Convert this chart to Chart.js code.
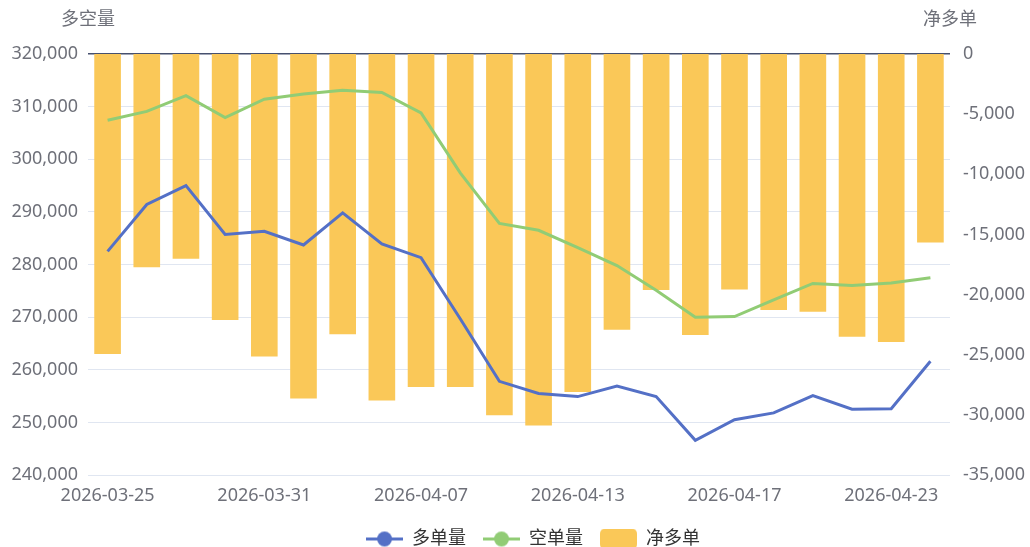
<!DOCTYPE html>
<html>
<head>
<meta charset="utf-8">
<script src="https://cdn.jsdelivr.net/npm/chart.js@4/dist/chart.umd.min.js"></script>
<style>
  html, body { margin: 0; padding: 0; background: #ffffff; }
  #wrap { width: 1030px; height: 547px; position: relative; }
</style>
</head>
<body>
<div id="wrap"><canvas id="c" width="1030" height="547"></canvas></div>
<script>
const dates = ['2026-03-25','2026-03-26','2026-03-27','2026-03-30','2026-03-31','2026-04-01','2026-04-02','2026-04-03','2026-04-07','2026-04-08','2026-04-09','2026-04-10','2026-04-13','2026-04-14','2026-04-15','2026-04-16','2026-04-17','2026-04-20','2026-04-21','2026-04-22','2026-04-23','2026-04-24'];
const longVol = [282500, 291400, 295000, 285700, 286300, 283700, 289800, 283900, 281300, 269700, 257800, 255500, 254900, 256900, 254900, 246600, 250500, 251800, 255100, 252500, 252600, 261600];
const shortVol = [307400, 309100, 312100, 307900, 311400, 312400, 313100, 312700, 308800, 297400, 287800, 286500, 283200, 279800, 275100, 270000, 270100, 273300, 276400, 276000, 276500, 277500];
const netLong = [-24940, -17720, -17030, -22110, -25140, -28640, -23300, -28800, -27680, -27680, -30030, -30880, -28100, -22920, -19610, -23360, -19580, -21280, -21420, -23500, -23940, -15670];
const leftTicks = [240000, 320000, 10000];
const rightTicks = [-35000, 0, 5000];
const seriesNames = ['多单量', '空单量', '净多单'];
const axisTitles = ['多空量', '净多单'];

const C_BLUE = '#5470c6', C_GREEN = '#91cc75', C_YELLOW = '#fac858';
const TXT = '#6E7079';
const FONT = '"Noto Sans", "Noto Sans CJK SC", sans-serif';

function lineIcon(color) {
  const cv = document.createElement('canvas');
  cv.width = 37; cv.height = 21;
  const g = cv.getContext('2d');
  g.strokeStyle = color; g.lineWidth = 3;
  g.beginPath(); g.moveTo(0, 10.5); g.lineTo(37, 10.5); g.stroke();
  g.fillStyle = color;
  g.beginPath(); g.arc(18.5, 10.5, 7.5, 0, Math.PI * 2); g.fill();
  return cv;
}
function barIcon(color) {
  const cv = document.createElement('canvas');
  cv.width = 37; cv.height = 21;
  const g = cv.getContext('2d');
  g.fillStyle = color;
  g.beginPath();
  if (g.roundRect) { g.roundRect(0, 0, 37, 21, 5); } else { g.rect(0, 0, 37, 21); }
  g.fill();
  return cv;
}

const axisTitlePlugin = {
  id: 'axisTitles',
  beforeDraw(chart) {
    const lg = chart.legend;
    if (lg && !lg._shifted) {
      lg.left += 18; lg.right += 18;
      lg._shifted = true;
    }
  },
  afterDraw(chart) {
    const ctx = chart.ctx;
    const a = chart.chartArea;
    ctx.save();
    ctx.font = '18px ' + FONT;
    ctx.fillStyle = TXT;
    ctx.textAlign = 'center';
    ctx.textBaseline = 'middle';
    ctx.fillText(axisTitles[0], a.left, 20);
    ctx.fillText(axisTitles[1], a.right, 20);
    ctx.restore();
  }
};

new Chart(document.getElementById('c'), {
  type: 'bar',
  data: {
    labels: dates,
    datasets: [
      { type: 'line', label: seriesNames[0], data: longVol, yAxisID: 'y', borderColor: C_BLUE, backgroundColor: C_BLUE, borderWidth: 3, pointRadius: 0, tension: 0, pointStyle: lineIcon(C_BLUE), order: 1 },
      { type: 'line', label: seriesNames[1], data: shortVol, yAxisID: 'y', borderColor: C_GREEN, backgroundColor: C_GREEN, borderWidth: 3, pointRadius: 0, tension: 0, pointStyle: lineIcon(C_GREEN), order: 2 },
      { type: 'bar', label: seriesNames[2], data: netLong, yAxisID: 'y1', backgroundColor: C_YELLOW, borderWidth: 0, categoryPercentage: 1, barPercentage: 0.68, pointStyle: barIcon(C_YELLOW), order: 3 }
    ]
  },
  options: {
    responsive: false,
    animation: false,
    maintainAspectRatio: false,
    layout: { padding: { top: 54, left: 0, right: 0, bottom: -11 } },
    plugins: {
      tooltip: { enabled: false },
      legend: {
        position: 'bottom',
        labels: {
          usePointStyle: true,
          pointStyleWidth: 37,
          boxHeight: 21,
          padding: 17,
          color: '#333',
          font: { size: 18, family: FONT }
        }
      }
    },
    scales: {
      x: {
        grid: { display: false },
        border: { display: false },
        ticks: {
          autoSkip: false, maxRotation: 0, minRotation: 0, padding: 2,
          color: TXT, font: { size: 18, family: FONT },
          callback: (v, i) => (i % 4 === 0 ? dates[i] : '')
        },
        afterFit: s => { s.height = 38; }
      },
      y: {
        position: 'left',
        min: leftTicks[0], max: leftTicks[1],
        border: { display: false },
        grid: {
          drawTicks: false,
          color: c => (c.tick && c.tick.value === leftTicks[1] ? '#46506e' : '#E0E6F1'),
          lineWidth: c => (c.tick && c.tick.value === leftTicks[1] ? 1.5 : 1)
        },
        ticks: { stepSize: leftTicks[2], padding: 10, color: TXT, font: { size: 18, family: FONT } },
        afterFit: s => { s.width = 88; }
      },
      y1: {
        position: 'right',
        min: rightTicks[0], max: rightTicks[1],
        border: { display: false },
        grid: { display: false, drawTicks: false },
        ticks: { stepSize: rightTicks[2], padding: 13, color: TXT, font: { size: 18, family: FONT } },
        afterFit: s => { s.width = 80; }
      }
    }
  },
  plugins: [axisTitlePlugin]
});
</script>
</body>
</html>
